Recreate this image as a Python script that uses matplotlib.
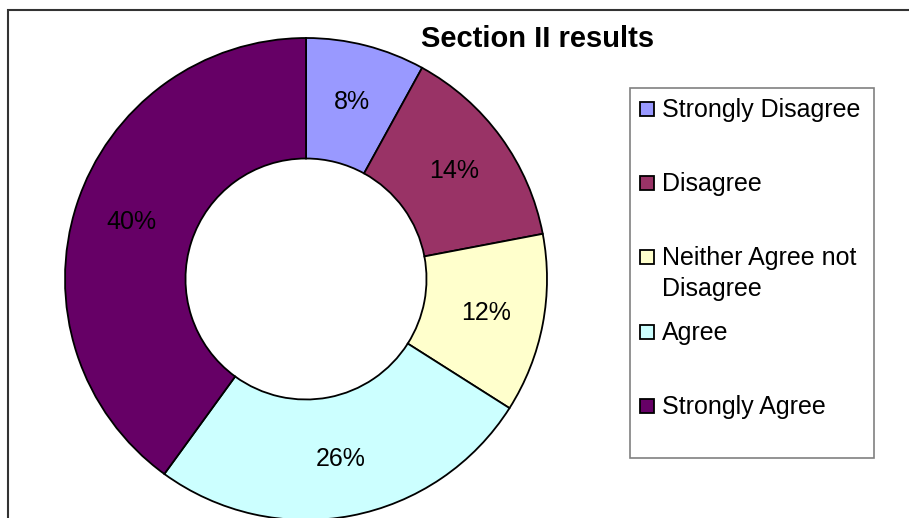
import matplotlib
matplotlib.use('Agg')
import matplotlib.pyplot as plt
import matplotlib.patches as mpatches

labels = ['Strongly Disagree', 'Disagree', 'Neither Agree not\nDisagree', 'Agree', 'Strongly Agree']
values = [8, 14, 12, 26, 40]
colors = ['#9999FF', '#993366', '#FFFFCC', '#CCFFFF', '#660066']

plt.rcParams['font.family'] = ['Liberation Sans', 'DejaVu Sans']

W, H = 909, 518
fig = plt.figure(figsize=(W / 100, H / 100), dpi=100)

# outer chart frame (runs off right and bottom)
fig.add_artist(mpatches.Rectangle((8 / W, -0.1), 1.2, (H - 10) / H + 0.1,
                                  transform=fig.transFigure, fill=False,
                                  edgecolor='#333333', lw=1.5))

# donut: centre (306, 279) px, radius 241 px
cx, cy, r = 306, 279, 241
ax = fig.add_axes([(cx - r) / W, (H - cy - r) / H, 2 * r / W, 2 * r / H])
ax.pie(values, colors=colors, startangle=90, counterclock=False,
       autopct='%1.0f%%', pctdistance=0.76, radius=1,
       wedgeprops=dict(width=0.5, edgecolor='black', linewidth=1.3),
       textprops=dict(fontsize=18, color='black'))
ax.set_xlim(-1, 1)
ax.set_ylim(-1, 1)
ax.set_aspect('auto')
ax.axis('off')

fig.text(538 / W, 1 - 39 / H, 'Section II results', ha='center', va='center',
         fontsize=21, fontweight='bold')

# legend box
lx0, ly0, lx1, ly1 = 630, 88, 874, 458
fig.add_artist(mpatches.Rectangle((lx0 / W, 1 - ly1 / H), (lx1 - lx0) / W, (ly1 - ly0) / H,
                                  transform=fig.transFigure, facecolor='white',
                                  edgecolor='#808080', lw=1.2))
for i, (lab, col) in enumerate(zip(labels, colors)):
    yc = 109 + 74.2 * i
    fig.add_artist(mpatches.Rectangle((640 / W, 1 - (yc + 7) / H), 14 / W, 14 / H,
                                      transform=fig.transFigure, facecolor=col,
                                      edgecolor='black', lw=1.3))
    fig.text(662 / W, 1 - (yc - 11) / H, lab, ha='left', va='top',
             fontsize=18, linespacing=1.35)

fig.savefig('out.png', dpi=100)
